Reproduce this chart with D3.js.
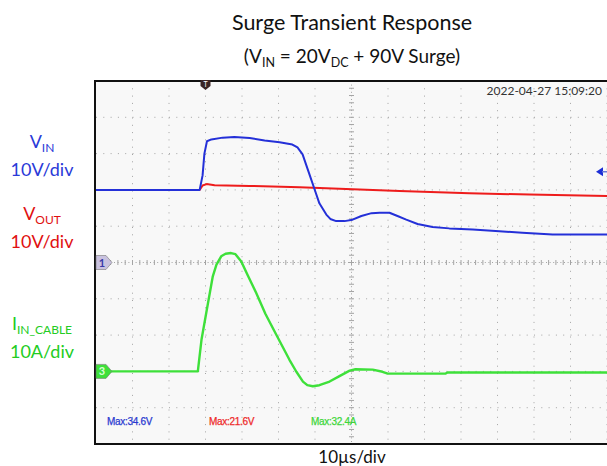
<!DOCTYPE html>
<html>
<head>
<meta charset="utf-8">
<script src="https://cdn.jsdelivr.net/npm/d3@7"></script>
<style>
  body { margin: 0; background: #fff; }
  svg { display: block; font-family: Lato, "Open Sans", sans-serif; }
</style>
</head>
<body>
<svg></svg>
<script>
const width = 607;
const height = 466;

// time in µs, 10 µs/div, trigger at centre
const timeTicks = d3.range(-70, 71, 10);
const voltTicks = d3.range(-50, 51, 10);

// V_IN (ch1, 10 V/div)
const vinTime = [-70, -41.6, -40.8, -40.3, -39.6, -38.4, -35.3, -32.1, -27.9, -23.8, -19.7, -16.2, -14.8, -13.4, -11.8, -10.1, -8.8, -6.9, -5.8, -4.2, -1.9, 0.3, 2.7, 5.5, 7.7, 10.4, 12.6, 15.0, 18.1, 22.2, 26.8, 33.2, 40.5, 46.8, 55.1, 70];
const vinVolts = [20, 20, 24, 30, 33.4, 33.9, 34.4, 34.6, 34.3, 33.6, 33.1, 32.5, 31.7, 29.8, 25.1, 20.1, 16.3, 13.2, 12.0, 11.4, 11.4, 11.8, 12.8, 13.6, 13.7, 13.7, 12.8, 11.8, 10.6, 9.8, 9.4, 9.1, 8.6, 8.2, 7.7, 7.7];

// V_OUT (ch2, 10 V/div)
const voutTime = [-70, -41.6, -40.8, -39.7, -37.5, -27.9, -14.2, -3.3, 13.2, 32.3, 48.8, 70];
const voutVolts = [20, 20, 21.2, 21.6, 21.3, 21.1, 20.7, 20.3, 19.7, 19.1, 18.7, 18.3];

// I_IN_CABLE (ch3, 10 A/div)
const iinTime = [-70, -42.1, -41.1, -39.8, -38.0, -37.0, -35.7, -34.5, -33.0, -31.8, -30.2, -28.5, -26.1, -23.6, -20.6, -17.0, -15.1, -13.3, -12.1, -10.6, -8.8, -6.0, -3.3, -0.5, 1.1, 5.8, 8.5, 9.9, 25.8, 26.3, 70];
const iinAmps = [0, 0, 8.7, 16.1, 26.2, 29.4, 31.7, 32.4, 32.6, 32.3, 30.3, 26.6, 21.6, 15.9, 10.1, 3.2, -0.1, -2.8, -3.8, -4.1, -3.8, -2.8, -1.3, 0.2, 0.6, 0.5, -0.1, -0.6, -0.6, -0.3, -0.3];

const svg = d3.select('svg').attr('width', width).attr('height', height);

const scrLeft = 96, scrRight = 607, scrTop = 81, scrBottom = 444;
const x = d3.scaleLinear().domain([-70, 70]).range([scrLeft, scrRight]);
const yV = d3.scaleLinear().domain([-50, 50]).range([scrBottom, scrTop]);
const yI = d3.scaleLinear().domain([-20, 80]).range([scrBottom, scrTop]);

// scope screen
svg.append('rect')
    .attr('x', scrLeft).attr('y', scrTop)
    .attr('width', scrRight - scrLeft).attr('height', scrBottom - scrTop)
    .attr('fill', '#f8f8f8');

const grid = svg.append('g');
grid.selectAll('.vgrid')
    .data(timeTicks.filter(d => d !== 0 && d !== -70))
    .enter().append('line')
    .attr('x1', d => x(d)).attr('x2', d => x(d))
    .attr('y1', scrTop).attr('y2', scrBottom)
    .style('stroke', '#a4a4a4')
    .style('stroke-width', 1)
    .style('stroke-dasharray', '1,6.3');
grid.selectAll('.hgrid')
    .data(voltTicks.filter(d => d !== 0 && d !== 50 && d !== -50))
    .enter().append('line')
    .attr('x1', scrLeft).attr('x2', scrRight)
    .attr('y1', d => yV(d)).attr('y2', d => yV(d))
    .style('stroke', '#a4a4a4')
    .style('stroke-width', 1)
    .style('stroke-dasharray', '1,6.3');

// centre cross with minor ticks
const cx = x(0), cy = yV(0);
grid.append('line')
    .attr('x1', scrLeft).attr('x2', scrRight).attr('y1', cy).attr('y2', cy)
    .style('stroke', '#a4a4a4').style('stroke-dasharray', '1,2.6');
grid.append('line')
    .attr('x1', cx).attr('x2', cx).attr('y1', scrTop).attr('y2', scrBottom)
    .style('stroke', '#a4a4a4').style('stroke-dasharray', '1,2.6');
const minorT = d3.range(-70, 70.01, 2);
grid.selectAll('.tx')
    .data(minorT)
    .enter().append('line')
    .attr('x1', d => x(d)).attr('x2', d => x(d))
    .attr('y1', cy - 2.5).attr('y2', cy + 2.5)
    .style('stroke', '#a4a4a4');
const minorV = d3.range(-50, 50.01, 2);
grid.selectAll('.ty')
    .data(minorV)
    .enter().append('line')
    .attr('x1', cx - 2.5).attr('x2', cx + 2.5)
    .attr('y1', d => yV(d)).attr('y2', d => yV(d))
    .style('stroke', '#a4a4a4');

// border
svg.append('path')
    .attr('d', `M${scrRight},${scrTop}H${scrLeft - 1}V${scrBottom}H${scrRight}`)
    .attr('fill', 'none')
    .style('stroke', '#111')
    .style('stroke-width', 2);

// traces
const traces = [
    {t: voutTime, v: voutVolts, y: yV, color: '#ee1c1c', w: 2},
    {t: vinTime, v: vinVolts, y: yV, color: '#2430d8', w: 2},
    {t: iinTime, v: iinAmps, y: yI, color: '#3ee03a', w: 2.4}
];
traces.forEach(tr => {
    const line = d3.line()
        .x((d, i) => x(tr.t[i]))
        .y(d => tr.y(d));
    svg.append('path')
        .datum(tr.v)
        .attr('d', line)
        .attr('fill', 'none')
        .style('stroke', tr.color)
        .style('stroke-width', tr.w)
        .style('stroke-linejoin', 'round');
});

// channel markers
function chMarker(yy, label, fill, textColor) {
    const g = svg.append('g').attr('transform', `translate(${scrLeft},${yy})`);
    g.append('path')
        .attr('d', 'M0,-7H10L16,0L10,7H0Z')
        .attr('fill', fill)
        .style('stroke', '#777').style('stroke-width', 0.6);
    g.append('text').attr('x', 6).attr('y', 4)
        .attr('text-anchor', 'middle')
        .style('font-size', '11px').style('font-weight', 'bold')
        .attr('fill', textColor).text(label);
}
chMarker(yV(0), '1', '#c9c2df', '#3a3aa8');
chMarker(yI(0), '3', '#3ee03a', '#d8ffd8');

// trigger position marker
const trig = svg.append('g').attr('transform', `translate(${x(-40)},${scrTop})`);
trig.append('path').attr('d', 'M-5,-1H5V5L0,9L-5,5Z').attr('fill', '#3a2424');
trig.append('text').attr('x', 0).attr('y', 6).attr('text-anchor', 'middle')
    .style('font-size', '7px').attr('fill', '#fff').text('T');

// trigger level arrow
const arr = svg.append('g').attr('transform', `translate(596,${yV(25)})`);
arr.append('path').attr('d', 'M0,0L7,-4.5V4.5Z').attr('fill', '#1d2fd6');
arr.append('line').attr('x1', 6).attr('x2', 14).attr('y1', 0).attr('y2', 0)
    .style('stroke', '#6d7ad8').style('stroke-width', 1.5);

// timestamp
svg.append('text').attr('x', 602).attr('y', 95).attr('text-anchor', 'end')
    .style('font-size', '12px').attr('fill', '#333')
    .text('2022-04-27 15:09:20');

// max readouts
const maxLabels = [
    {x: 107, text: 'Max:34.6V', color: '#2a3ad0'},
    {x: 209, text: 'Max:21.6V', color: '#ee2a2a'},
    {x: 311, text: 'Max:32.4A', color: '#3ed63a'}
];
svg.selectAll('.maxlab')
    .data(maxLabels)
    .enter().append('text')
    .attr('x', d => d.x).attr('y', 425)
    .style('font-size', '10px')
    .style('font-family', '"Liberation Sans", Arial, sans-serif')
    .style('letter-spacing', '-0.3px')
    .style('stroke', d => d.color).style('stroke-width', 0.25)
    .attr('fill', d => d.color)
    .text(d => d.text);

// titles
svg.append('text').attr('x', 352).attr('y', 30).attr('text-anchor', 'middle')
    .style('font-size', '21.5px').attr('fill', '#111')
    .text('Surge Transient Response');
const sub = svg.append('text').attr('x', 352).attr('y', 63).attr('text-anchor', 'middle')
    .style('font-size', '19px').attr('fill', '#111');
sub.append('tspan').text('(V');
sub.append('tspan').attr('dy', 4).style('font-size', '12.5px').text('IN');
sub.append('tspan').attr('dy', -4).text(' = 20V');
sub.append('tspan').attr('dy', 4).style('font-size', '12.5px').text('DC');
sub.append('tspan').attr('dy', -4).text(' + 90V Surge)');

svg.append('text').attr('x', 352).attr('y', 463).attr('text-anchor', 'middle')
    .style('font-size', '17px').attr('fill', '#111')
    .text('10µs/div');

// left channel labels
function sideLabel(yy, main, subText, scale, color) {
    const t = svg.append('text').attr('x', 42).attr('y', yy).attr('text-anchor', 'middle')
        .style('font-size', '18px').attr('fill', color);
    t.append('tspan').text(main);
    t.append('tspan').attr('dy', 4).style('font-size', '12px').text(subText);
    svg.append('text').attr('x', 42).attr('y', yy + 28).attr('text-anchor', 'middle')
        .style('font-size', '18px').attr('fill', color).text(scale);
}
sideLabel(148, 'V', 'IN', '10V/div', '#2a3ad8');
sideLabel(220, 'V', 'OUT', '10V/div', '#e01010');
sideLabel(330, 'I', 'IN_CABLE', '10A/div', '#22cc22');
</script>
</body>
</html>
